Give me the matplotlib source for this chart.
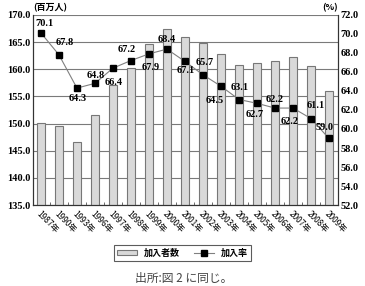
import matplotlib
matplotlib.use("Agg")
import matplotlib.pyplot as plt
import numpy as np

# データ
years = ["1987年", "1990年", "1993年", "1996年", "1997年", "1998年", "1999年", "2000年",
         "2001年", "2002年", "2003年", "2004年", "2005年", "2006年", "2007年", "2008年", "2009年"]
members = [150.1, 149.6, 146.6, 151.6, 157.1, 160.2, 164.7, 167.4,
           166.0, 164.8, 162.8, 160.8, 161.2, 161.5, 162.3, 160.5, 156.0]
rate = [70.1, 67.8, 64.3, 64.8, 66.4, 67.2, 67.9, 68.4,
        67.1, 65.7, 64.5, 63.1, 62.7, 62.2, 62.2, 61.1, 59.0]

# ラベル位置のずらし (pixels)
offsets = [(4, 9), (6, 12), (1, -10), (1, 8), (1, -14), (-4, 11), (2, -14), (0, 10),
           (1, -9), (2, 12), (-6, -14), (1, 12), (-2, -11), (0, 9), (-3, -13), (5, 13), (-4, 11)]

jp = ["Noto Sans CJK JP", "DejaVu Sans"]
num_font = dict(family="Liberation Serif", weight="bold", size=7.5)

fig = plt.figure(figsize=(3.65, 2.86), dpi=100)
ax = fig.add_axes([0.09, 0.283, 0.836, 0.665])
ax2 = ax.twinx()

x = np.arange(len(years))
ax.bar(x, members, width=0.42, color="#d9d9d9", edgecolor="#777777", linewidth=0.8,
       label="加入者数", zorder=2)
ax.set_ylim(135, 170)
ax.set_yticks(np.arange(135, 171, 5))
ax.set_yticklabels([f"{v:.1f}" for v in np.arange(135, 171, 5)], fontdict=num_font)
ax.yaxis.grid(True, color="#7a7a7a", linewidth=0.8, zorder=0)
ax.set_axisbelow(True)
ax.set_xlim(-0.45, 16.5)
ax.set_xticks(x)
ax.set_xticklabels(years, rotation=-45, ha="left", va="top", fontsize=6,
                   family=jp, rotation_mode="anchor")
ax.tick_params(axis="x", length=0, pad=3)
ax.set_xticks(x[:-1] + 0.5, minor=True)
ax.tick_params(axis="x", which="minor", direction="in", length=2.5, color="#555555")
ax.tick_params(axis="y", length=0, pad=2)

ln, = ax2.plot(x, rate, color="#808080", linewidth=0.8, marker="s", markersize=4.5,
               markerfacecolor="black", markeredgecolor="black", label="加入率", zorder=3)
ax2.set_ylim(52, 72)
ax2.set_yticks(np.arange(52, 73, 2))
ax2.set_yticklabels([f"{v:.1f}" for v in np.arange(52, 73, 2)], fontdict=num_font)
ax2.tick_params(axis="y", length=0, pad=2)

for i, v in enumerate(rate):
    ax2.annotate(f"{v:.1f}", (x[i], v), xytext=offsets[i], textcoords="offset pixels",
                 ha="center", va="center", **num_font)

for a in (ax, ax2):
    a.spines["top"].set_visible(False)
    for s in ("left", "right", "bottom"):
        a.spines[s].set_color("#333333")
        a.spines[s].set_linewidth(0.8)

fig.text(33 / 365, 1 - 8 / 286, "(百万人)", family=jp, weight="bold", fontsize=6.5,
         ha="left", va="center")
fig.text(338 / 365, 1 - 8 / 286, "(%)", family=jp, weight="bold", fontsize=6.5,
         ha="right", va="center")

handles = [ax.patches[0], ln]
leg = fig.legend(handles, ["加入者数", "加入率"], loc="center", bbox_to_anchor=(0.5, 1 - 253 / 286),
                 ncol=2, frameon=True, fancybox=False, edgecolor="#333333",
                 prop=dict(family=jp, weight="bold", size=6.5),
                 handlelength=2.2, handleheight=0.6, columnspacing=1.5, borderpad=0.35)
leg.get_frame().set_linewidth(0.8)

fig.text(184 / 365, 1 - 278 / 286, "出所:図 2 に同じ。", family=jp, fontsize=8.5,
         ha="center", va="center", color="#444444")

fig.savefig("out.png", dpi=100)
